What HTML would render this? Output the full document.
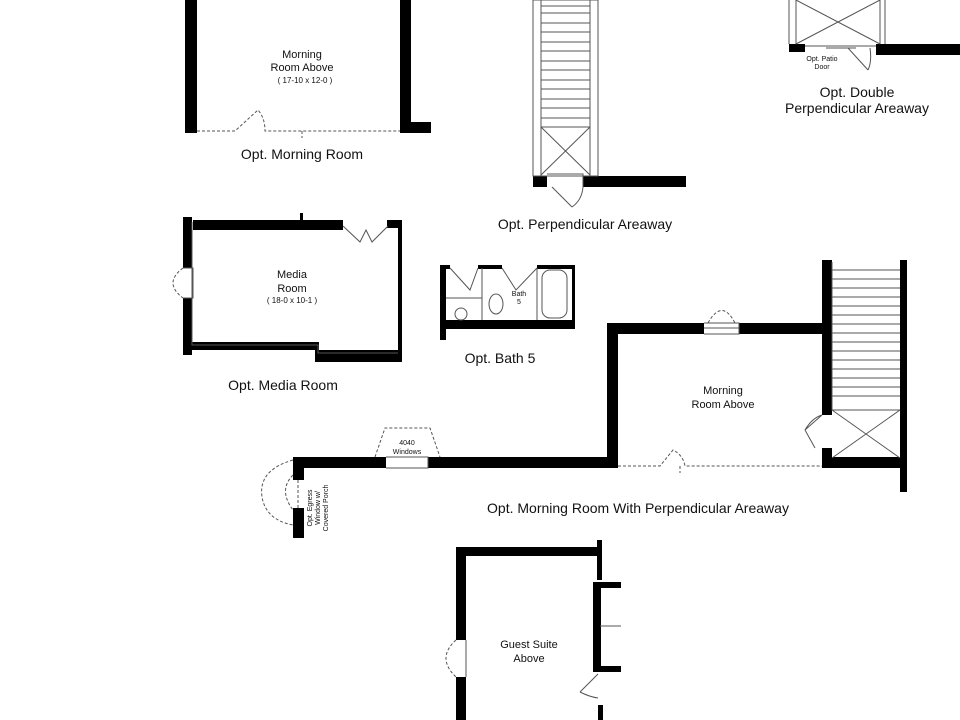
<!DOCTYPE html>
<html><head><style>html,body{margin:0;padding:0;background:#fff}svg{display:block}text{font-family:"Liberation Sans",sans-serif;fill:#111}</style></head><body>
<svg width="960" height="720" viewBox="0 0 960 720">
<g fill="#000">
<rect x="185" y="0" width="12" height="133"/>
<rect x="400" y="0" width="11" height="133"/>
<rect x="400" y="122" width="31" height="11"/>
<rect x="533" y="176" width="14" height="11"/>
<rect x="583" y="176" width="103" height="11"/>
<rect x="789" y="44" width="16" height="8"/>
<rect x="876" y="44" width="84" height="11"/>
<rect x="183" y="217" width="9" height="51"/>
<rect x="183" y="298" width="9" height="57"/>
<rect x="193" y="220" width="150" height="10"/>
<rect x="387" y="220" width="15" height="8"/>
<rect x="398" y="220" width="4" height="142"/>
<rect x="183" y="342" width="136" height="8"/>
<rect x="315" y="350" width="87" height="12"/>
<rect x="300" y="213" width="3" height="8"/>
<rect x="440" y="265" width="6" height="75"/>
<rect x="440" y="265" width="10" height="4"/>
<rect x="478" y="265" width="24" height="4"/>
<rect x="537" y="265" width="38" height="4"/>
<rect x="572" y="265" width="3" height="60"/>
<rect x="440" y="320" width="135" height="9"/>
<rect x="293" y="457" width="93" height="11"/>
<rect x="428" y="457" width="190" height="11"/>
<rect x="607" y="323" width="11" height="145"/>
<rect x="607" y="323" width="97" height="11"/>
<rect x="739" y="323" width="93" height="11"/>
<rect x="822" y="260" width="10" height="155"/>
<rect x="822" y="448" width="10" height="20"/>
<rect x="822" y="457" width="80" height="11"/>
<rect x="900" y="260" width="7" height="232"/>
<rect x="293" y="457" width="11" height="23"/>
<rect x="293" y="508" width="11" height="30"/>
<rect x="456" y="547" width="10" height="93"/>
<rect x="456" y="677" width="10" height="43"/>
<rect x="456" y="547" width="146" height="9"/>
<rect x="597" y="540" width="5" height="40"/>
<rect x="593" y="582" width="28" height="6"/>
<rect x="593" y="582" width="8" height="90"/>
<rect x="593" y="666" width="28" height="6"/>
<rect x="598" y="705" width="5" height="15"/>
</g>
<g stroke="#555" stroke-width="1" fill="none">
<rect x="533" y="0" width="65" height="176"/>
<rect x="541" y="0" width="49" height="176"/>
<path d="M541 6H590M541 13H590M541 23H590M541 32H590M541 42H590M541 51H590M541 61H590M541 70H590M541 80H590M541 89H590M541 99H590M541 108H590M541 118H590M541 127H590M541 127L590 175M590 127L541 175"/>
<path d="M552 187L572 207M547 174H583V187M583 187Q582 200 572 207"/>
<path d="M789 0V44M796 0V44M880 0V44M885 0V44M796 0L880 44M880 0L796 44M805 46H876M848 48L868 70M870 48Q872 62 868 70M826 48H856"/>
<path d="M197 131H235L258 110Q265 118 265 131H400M302 131V138" stroke-dasharray="3,2"/>
<path d="M192 222V345H318V353H398M183 268H193V298H183"/>
<path d="M343 226L360 242L366 230L372 242L388 226"/>
<path d="M183 268Q163 283 183 298" stroke-dasharray="3,2"/>
<path d="M450 268L470 290L478 268M502 268L516 290L537 268M446 298H482V320M537 268V320M482 268V320"/>
<circle cx="461" cy="314" r="6"/>
<ellipse cx="496" cy="304" rx="7" ry="10"/>
<rect x="542" y="270" width="25" height="48" rx="8"/>
<path d="M832 262V410H900M832 270H900M832 279H900M832 288H900M832 297H900M832 306H900M832 315H900M832 324H900M832 333H900M832 342H900M832 351H900M832 360H900M832 369H900M832 378H900M832 387H900M832 396H900M832 410L900 458M900 410L832 458"/>
<path d="M704 323H739V334H704M704 328H739"/>
<path d="M708 323Q722 298 735 323" stroke-dasharray="3,2"/>
<path d="M618 466H660L673 450Q683 455 685 466H822M680 466V473" stroke-dasharray="3,2"/>
<path d="M822 415L805 430L815 448M822 415Q812 418 805 430"/>
<path d="M386 457H428V468H386"/>
<path d="M375 457L385 428H430L440 457" stroke-dasharray="3,2"/>
<path d="M298 480V508M293 460Q258 470 262 497Q266 520 293 525M293 475Q278 490 293 510" stroke-dasharray="3,2"/>
<path d="M600 626H621M466 640V677M598 674L580 692M580 692Q590 697 598 698"/>
<path d="M456 640Q436 658 456 677" stroke-dasharray="3,2"/>
</g>
<g text-anchor="middle">
<text x="302" y="58" font-size="11">Morning</text>
<text x="302" y="71" font-size="11">Room Above</text>
<text x="305" y="83" font-size="8">( 17-10 x 12-0 )</text>
<text x="302" y="159" font-size="14">Opt. Morning Room</text>
<text x="585" y="229" font-size="14">Opt. Perpendicular Areaway</text>
<text x="822" y="61" font-size="7">Opt. Patio</text>
<text x="822" y="69" font-size="7">Door</text>
<text x="857" y="97" font-size="14">Opt. Double</text>
<text x="857" y="113" font-size="14">Perpendicular Areaway</text>
<text x="292" y="278" font-size="11">Media</text>
<text x="292" y="292" font-size="11">Room</text>
<text x="292" y="303" font-size="8">( 18-0 x 10-1 )</text>
<text x="283" y="390" font-size="14">Opt. Media Room</text>
<text x="519" y="296" font-size="7">Bath</text>
<text x="519" y="304" font-size="7">5</text>
<text x="500" y="363" font-size="14">Opt. Bath 5</text>
<text x="723" y="394" font-size="11">Morning</text>
<text x="723" y="408" font-size="11">Room Above</text>
<text x="407" y="445" font-size="7">4040</text>
<text x="407" y="454" font-size="7">Windows</text>
<text x="638" y="513" font-size="14">Opt. Morning Room With Perpendicular Areaway</text>
<text x="529" y="648" font-size="11">Guest Suite</text>
<text x="529" y="662" font-size="11">Above</text>
</g>
<g font-size="7" text-anchor="middle" transform="translate(316,508) rotate(-90)">
<text x="0" y="-4">Opt. Egress</text>
<text x="0" y="4">Window w/</text>
<text x="0" y="12">Covered Porch</text>
</g>
</svg>
</body></html>
